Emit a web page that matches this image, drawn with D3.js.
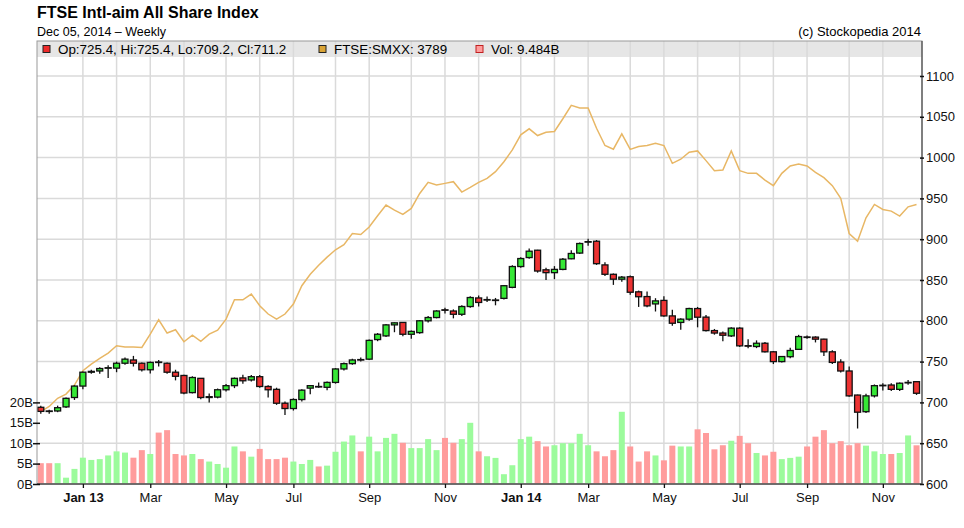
<!DOCTYPE html>
<html>
<head>
<meta charset="utf-8">
<script src="https://cdn.jsdelivr.net/npm/d3@7"></script>
<style>
  body { margin: 0; background: #fff; }
  svg { font-family: "Liberation Sans", Arial, sans-serif; }
</style>
</head>
<body>
<div class="container"></div>
<script>
// weekly bars, Dec 2012 -> Dec 05 2014 (105 weeks)
const opens = [694, 689.5, 689.5, 694.5, 706, 720, 737, 738.5, 742, 742, 748, 752, 748, 740, 749.5, 748, 737, 733, 712, 729.5,
  706, 706.5, 715.5, 720.5, 730, 727.5, 731.5, 719.5, 716, 699, 692.5, 703.5, 717.5, 719.5, 718.5, 724.5, 741, 747.5, 752.5, 753,
  777, 781.5, 795, 798, 783.5, 785.5, 800, 804, 813.5, 812, 808, 817.5, 828, 825.5, 825, 827.5, 841, 866.5, 877.5, 886.5,
  862.5, 859, 863, 876, 883, 896.5, 897.5, 868.5, 857, 851, 854, 835.5, 829.7, 820.7, 825, 806, 798, 802, 815, 804.5,
  788, 785, 781.5, 791, 769.5, 768.5, 772.5, 762, 750, 756, 765, 780.2, 780, 777.5, 762, 749.5, 738.5, 709, 688.6, 708,
  720.5, 721.3, 716, 724, 725.4]
const highs = [696, 691, 696, 706, 721, 738, 740, 743, 745.5, 750, 755, 757, 749, 750, 752, 749, 740, 734, 732, 730,
  711, 717, 722.5, 730.5, 734, 733.5, 733.5, 721, 718, 701, 705, 716, 721, 724.5, 725.5, 742, 749, 753.5, 755, 777,
  785, 796, 798, 798.5, 788, 801, 806, 813, 816, 814, 819, 830, 831, 829.7, 828, 844, 868, 878, 888.5, 887,
  865, 867, 877, 886.5, 896, 900.5, 899, 871.8, 858, 855, 855.5, 837, 836, 827.7, 830, 813.4, 803, 816, 817, 807,
  790, 787, 792, 792, 777.5, 776, 774, 763, 757, 767, 782.8, 782, 781, 778, 764, 753, 744, 709.5, 710.5, 722,
  723.5, 723.5, 724.5, 727.5, 725.4]
const lows = [686, 686, 688, 693, 703, 716, 735, 735, 730, 737, 746, 744, 738, 735.5, 744, 735, 727, 710, 711, 704,
  700, 705, 713.5, 717.5, 723, 725.7, 718, 706, 697, 684.5, 690, 701, 710, 718, 715, 723, 739, 746, 750, 752,
  775, 780, 786, 781, 778, 784, 798, 803, 809, 803, 806, 816, 817.5, 823, 819, 826, 840, 865, 876, 859,
  850, 851, 862, 875.5, 882, 892, 868.5, 855, 844, 848, 832, 817, 816.7, 811.4, 805, 794, 789, 800, 792, 787,
  783, 775, 780, 768, 766.5, 766.5, 761, 747, 749, 754, 764.5, 778, 773.5, 757, 747, 736.5, 707, 668, 687, 706,
  714.7, 714, 714, 721.5, 709.2]
const closes = [689, 689, 693.5, 705, 720, 737, 738, 741.5, 742.5, 748, 753, 748, 740, 749, 749, 737, 732, 711.5, 730.5, 706,
  707, 715.5, 720.5, 729.5, 726.5, 731.5, 719.5, 715.5, 699, 692.5, 703.5, 715, 720.5, 719, 724.5, 741, 747.5, 752, 752, 776,
  783.5, 795, 797.5, 783.5, 787, 800, 804, 812, 813, 808, 817.5, 828.5, 822.5, 826, 825.5, 843, 866.5, 876.3, 885.3, 861,
  859, 863, 875.5, 882.5, 894.7, 897, 870, 857, 851, 853.5, 835, 829.5, 818.3, 824.4, 806, 797, 802, 815, 804.4, 788,
  785, 782.3, 791, 769.3, 769, 772.5, 762, 750, 756.2, 763.6, 780.7, 780, 777.5, 762, 749, 738.5, 708, 688, 708, 720.5,
  721, 716, 723.5, 724.5, 711.2]
// volume in billions
const volumes = [5.1, 5.1, 5.1, 1.55, 3.7, 6.45, 5.9, 6.1, 7.0, 8.0, 7.7, 6.45, 8.3, 7.35, 12.6, 13.2, 7.35, 7.0, 7.35, 6.1,
  5.5, 4.9, 4.0, 9.2, 8.0, 6.7, 8.6, 6.1, 6.1, 6.45, 5.5, 4.9, 5.9, 4.3, 4.5, 7.9, 10.4, 11.9, 8.0, 11.6,
  8.0, 11.3, 12.3, 10.1, 8.8, 8.8, 11.0, 8.3, 11.3, 10.1, 11.0, 15.0, 8.0, 6.8, 6.4, 2.4, 4.6, 11.0, 11.6, 10.5,
  9.2, 9.5, 10.0, 10.0, 12.3, 9.5, 8.0, 6.8, 8.3, 17.7, 9.2, 5.5, 8.0, 7.0, 5.8, 9.4, 9.2, 9.2, 13.4, 12.5,
  8.5, 9.5, 10.6, 11.8, 10.0, 7.6, 7.0, 7.9, 6.1, 6.4, 6.7, 9.2, 11.6, 13.2, 10.0, 10.5, 9.5, 10.0, 9.4, 8.0,
  7.35, 7.35, 7.6, 11.9, 9.484]
// FTSE:SMXX comparison line, on the price scale
const smxx = [688.6, 695, 705, 710.2, 721.2, 738.8, 747, 754, 760.5, 769.4, 767.8, 767.8, 767.4, 783.7, 801.3, 785, 789, 774.3, 782.5, 774.8,
  783.7, 788.6, 802.1, 825.8, 825.8, 832.8, 818.5, 808.3, 802.1, 808.3, 820.5, 843, 857, 868, 878, 887, 893.4, 907, 905.7, 915,
  928.7, 941.8, 935.6, 930.3, 937.7, 956, 969.7, 966.4, 968.4, 970.5, 957.8, 963.5, 969.7, 974.6, 982.8, 995, 1009.4, 1027.9, 1035.3, 1027,
  1031, 1032, 1047.6, 1064, 1060.7, 1060.7, 1036, 1014.8, 1010.3, 1029, 1010, 1013.5, 1014.8, 1017.6, 1014.8, 993, 998, 1006.6, 1008.2, 996.3,
  984, 984.8, 1008.2, 984, 980.7, 980.7, 972.5, 965.6, 980.7, 989.8, 992.2, 989.8, 982, 975.4, 965.6, 950, 907, 897.5, 926.2, 942.6,
  936.5, 934.4, 928.3, 939.7, 942.6]

// first weekly bar of each month
const monthIdx = [5, 9, 13, 17, 22, 26, 30, 35, 39, 44, 48, 52, 57, 61, 65, 70, 74, 78, 83, 87, 91, 96, 100]
const monthLabels = ['Jan 13', '', 'Mar', '', 'May', '', 'Jul', '', 'Sep', '', 'Nov', '',
  'Jan 14', '', 'Mar', '', 'May', '', 'Jul', '', 'Sep', '', 'Nov']
const priceTicks = [600, 650, 700, 750, 800, 850, 900, 950, 1000, 1050, 1100]
const volTicks = [0, 5, 10, 15, 20]

const width = 964
const height = 528
const plotLeft = 37
const plotRight = 922
const plotTop = 41
const plotBottom = 484
const font = '"Liberation Sans", Arial, sans-serif'

const svg = d3.select('.container').append('svg').attr('width', width).attr('height', height)

const x = d3.scaleLinear().domain([-0.45, 104.65]).range([plotLeft, plotRight])
const yPrice = d3.scaleLinear().domain([600, 1100]).range([plotBottom, 76])
const yVol = d3.scaleLinear().domain([0, 100]).range([plotBottom, 76])

// titles
svg.append('text').attr('x', 37).attr('y', 18)
  .attr('font-size', 16).attr('font-weight', 'bold').text('FTSE Intl-aim All Share Index')
svg.append('text').attr('x', 37).attr('y', 36).attr('font-size', 12.5).text('Dec 05, 2014 \u2013 Weekly')
svg.append('text').attr('x', 921).attr('y', 36).attr('font-size', 13)
  .attr('text-anchor', 'end').text('(c) Stockopedia 2014')

// legend band
svg.append('rect').attr('x', plotLeft).attr('y', plotTop).attr('width', plotRight - plotLeft).attr('height', 16)
  .attr('fill', '#e6e6e6')

// grid
svg.append('g').selectAll('line').data(monthIdx).join('line')
  .attr('x1', (d) => x(d)).attr('x2', (d) => x(d))
  .attr('y1', plotTop).attr('y2', plotBottom)
  .attr('stroke', '#dadada').attr('stroke-width', 1.5)
svg.append('g').selectAll('line').data(priceTicks).join('line')
  .attr('x1', plotLeft).attr('x2', plotRight)
  .attr('y1', (d) => yPrice(d)).attr('y2', (d) => yPrice(d))
  .attr('stroke', '#dadada').attr('stroke-width', 1.5)

// legend items
const legendItems = [
  { x: 43, fill: '#ee2a2a', stroke: '#222', label: 'Op:725.4, Hi:725.4, Lo:709.2, Cl:711.2' },
  { x: 319, fill: '#daa436', stroke: '#222', label: 'FTSE:SMXX: 3789' },
  { x: 476, fill: '#ff9c9c', stroke: '#c02020', label: 'Vol: 9.484B' }
]
const leg = svg.append('g').selectAll('g').data(legendItems).join('g')
leg.append('rect').attr('x', (d) => d.x).attr('y', 45.5).attr('width', 7).attr('height', 7)
  .attr('fill', (d) => d.fill).attr('stroke', (d) => d.stroke).attr('stroke-width', 1)
leg.append('text').attr('x', (d) => d.x + 15).attr('y', 54).attr('font-size', 13.4)
  .text((d) => d.label)

const idx = d3.range(opens.length)

// volume bars
svg.append('g').selectAll('rect').data(idx).join('rect')
  .attr('x', (i) => x(i) - 3).attr('width', 6)
  .attr('y', (i) => yVol(volumes[i])).attr('height', (i) => yVol(0) - yVol(volumes[i]))
  .attr('fill', (i) => (closes[i] >= opens[i] ? '#9cfb9c' : '#ff9c9c'))

// comparison line
svg.append('path').datum(idx)
  .attr('fill', 'none').attr('stroke', '#e8b765').attr('stroke-width', 1.5)
  .attr('d', d3.line().x((i) => x(i)).y((i) => yPrice(smxx[i])))

// candles
const candles = svg.append('g').selectAll('g').data(idx).join('g')
candles.append('line')
  .attr('x1', (i) => x(i)).attr('x2', (i) => x(i))
  .attr('y1', (i) => yPrice(highs[i])).attr('y2', (i) => yPrice(lows[i]))
  .attr('stroke', '#111').attr('stroke-width', 1.3)
candles.append('rect')
  .attr('x', (i) => x(i) - 3).attr('width', 6)
  .attr('y', (i) => yPrice(Math.max(opens[i], closes[i])))
  .attr('height', (i) => Math.max(0.5, Math.abs(yPrice(opens[i]) - yPrice(closes[i]))))
  .attr('fill', (i) => (closes[i] >= opens[i] ? '#36e836' : '#ec3232'))
  .attr('stroke', '#111').attr('stroke-width', 1.3)

// frame
svg.append('rect').attr('x', plotLeft).attr('y', plotTop)
  .attr('width', plotRight - plotLeft).attr('height', plotBottom - plotTop)
  .attr('fill', 'none').attr('stroke', '#9a9a9a').attr('stroke-width', 1)
svg.append('line').attr('x1', plotLeft).attr('x2', plotRight).attr('y1', plotBottom).attr('y2', plotBottom)
  .attr('stroke', '#555').attr('stroke-width', 1.3)
svg.append('line').attr('x1', plotRight).attr('x2', plotRight).attr('y1', plotTop).attr('y2', plotBottom)
  .attr('stroke', '#555').attr('stroke-width', 1.3)

// right price axis
const rightAxis = d3.axisRight(yPrice).tickValues(priceTicks).tickSize(4).tickPadding(3)
  .tickFormat(d3.format('d'))
const ra = svg.append('g').attr('transform', `translate(${plotRight - 2},0)`).call(rightAxis)
ra.select('.domain').remove()
ra.selectAll('.tick line').attr('stroke', '#111').attr('stroke-width', 1.5)
ra.selectAll('text').attr('font-size', 13).attr('font-family', font)
  .attr('fill', '#111').attr('x', 6)

// left volume axis
const leftAxis = d3.axisLeft(yVol).tickValues(volTicks).tickSize(4).tickFormat((d) => d + 'B').tickPadding(2)
const la = svg.append('g').attr('transform', `translate(${plotLeft + 3},0)`).call(leftAxis)
la.select('.domain').remove()
la.selectAll('.tick line').attr('stroke', '#111').attr('stroke-width', 1.5).attr('x2', -7)
la.selectAll('text').attr('font-size', 13).attr('font-family', font)
  .attr('fill', '#111').attr('x', -7)

// bottom month axis
const labelled = monthIdx.filter((d, k) => monthLabels[k] !== '')
const bottomAxis = d3.axisBottom(x).tickValues(labelled).tickSize(4).tickPadding(5)
  .tickFormat((d) => monthLabels[monthIdx.indexOf(d)])
const ba = svg.append('g').attr('transform', `translate(0,${plotBottom})`).call(bottomAxis)
ba.select('.domain').remove()
ba.selectAll('.tick line').attr('stroke', '#111').attr('stroke-width', 1.3)
ba.selectAll('text').attr('font-size', 13).attr('font-family', font)
  .attr('fill', '#111')
  .attr('font-weight', (d) => (monthLabels[monthIdx.indexOf(d)].startsWith('Jan') ? 'bold' : 'normal'))
</script>
</body>
</html>
